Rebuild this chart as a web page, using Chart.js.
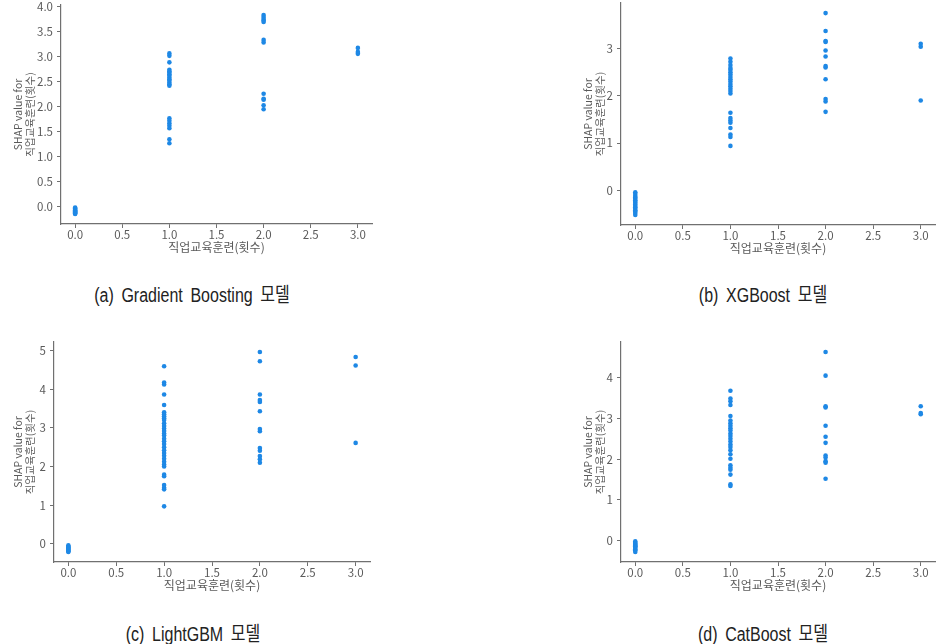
<!DOCTYPE html>
<html>
<head>
<meta charset="utf-8">
<script src="https://cdn.jsdelivr.net/npm/chart.js@4.4.1/dist/chart.umd.min.js"></script>
<style>
  body { margin: 0; background: #fff; width: 940px; height: 644px; position: relative; overflow: hidden; }
  .panel { position: absolute; }
  .cap { position: absolute; font-family: "Liberation Sans", "Noto Sans CJK KR", sans-serif; font-size: 20px; color: #222;
         white-space: nowrap; transform: translate(-50%, -50%) scaleX(0.8); word-spacing: 4px; }
</style>
</head>
<body>
<div class="panel" id="pa"><canvas id="ca"></canvas></div>
<div class="panel" id="pb"><canvas id="cb"></canvas></div>
<div class="panel" id="pc"><canvas id="cc"></canvas></div>
<div class="panel" id="pd"><canvas id="cd"></canvas></div>
<div class="cap" style="left:192px;top:293px">(a) Gradient Boosting 모델</div>
<div class="cap" style="left:763px;top:293px">(b) XGBoost 모델</div>
<div class="cap" style="left:193px;top:632px">(c) LightGBM 모델</div>
<div class="cap" style="left:763px;top:632px">(d) CatBoost 모델</div>
<script>
// 직업교육훈련 횟수 (x 값)
const trainingCounts = [0, 1, 2, 3]
const xTicks = [0, 0.5, 1, 1.5, 2, 2.5, 3]

// SHAP 값 - Gradient Boosting
const gb0 = [-0.02, -0.04, -0.05, -0.07, -0.08, -0.09, -0.10, -0.11, -0.12, -0.13, -0.14, -0.15]
const gb1 = [3.07, 3.02, 2.89, 2.74, 2.71, 2.68, 2.65, 2.62, 2.58, 2.55, 2.52, 2.48, 2.45, 2.42, 1.77, 1.72, 1.67, 1.62, 1.57, 1.35, 1.27]
const gb2 = [3.84, 3.80, 3.76, 3.73, 3.70, 3.34, 3.29, 2.26, 2.16, 2.14, 2.03, 1.95]
const gb3 = [3.18, 3.10, 3.06]
const gbTicks = [0, 0.5, 1, 1.5, 2, 2.5, 3, 3.5, 4]

// SHAP 값 - XGBoost
const xgb0 = [-0.04, -0.08, -0.12, -0.15, -0.18, -0.21, -0.24, -0.27, -0.30, -0.33, -0.36, -0.39, -0.42, -0.45, -0.48, -0.52]
const xgb1 = [2.79, 2.72, 2.65, 2.59, 2.55, 2.50, 2.45, 2.40, 2.35, 2.30, 2.25, 2.20, 2.15, 2.10, 2.05, 1.64, 1.53, 1.48, 1.43, 1.32, 1.18, 1.13, 0.94]
const xgb2 = [3.75, 3.37, 3.16, 3.14, 2.96, 2.83, 2.63, 2.60, 2.35, 1.93, 1.88, 1.66]
const xgb3 = [3.10, 3.04, 1.90]
const xgbTicks = [0, 1, 2, 3]

// SHAP 값 - LightGBM
const lgbm0 = [-0.04, -0.07, -0.09, -0.11, -0.13, -0.15, -0.17, -0.19, -0.21]
const lgbm1 = [4.59, 4.17, 4.12, 3.86, 3.59, 3.40, 3.35, 3.30, 3.25, 3.20, 3.12, 3.05, 2.98, 2.92, 2.85, 2.80, 2.72, 2.65, 2.58, 2.50, 2.42, 2.35, 2.28, 2.20, 2.12, 2.05, 2.00, 1.79, 1.75, 1.52, 1.45, 1.41, 0.97]
const lgbm2 = [4.96, 4.72, 3.86, 3.72, 3.67, 3.43, 2.97, 2.91, 2.48, 2.41, 2.27, 2.19, 2.10]
const lgbm3 = [4.83, 4.61, 2.61]
const lgbmTicks = [0, 1, 2, 3, 4, 5]

// SHAP 값 - CatBoost
const cat0 = [-0.02, -0.05, -0.08, -0.10, -0.12, -0.14, -0.16, -0.18, -0.21, -0.24, -0.28]
const cat1 = [3.68, 3.49, 3.42, 3.33, 3.06, 2.95, 2.88, 2.82, 2.76, 2.70, 2.63, 2.57, 2.50, 2.43, 2.36, 2.30, 2.22, 2.12, 2.01, 1.85, 1.79, 1.74, 1.62, 1.38, 1.34]
const cat2 = [4.63, 4.05, 3.30, 3.27, 2.82, 2.55, 2.40, 2.09, 2.04, 1.95, 1.91, 1.52]
const cat3 = [3.30, 3.13, 3.10]
const catTicks = [0, 1, 2, 3, 4]

const xTitle = '직업교육훈련(횟수)'
const yTitle = ['SHAP value for', '직업교육훈련(횟수)']

const dotColor = '#1E88E5'
const axisColor = '#707070'
const textColor = '#5a5a5a'
const font = '"Noto Sans CJK KR", "DejaVu Sans", sans-serif'

function makePoints(groups) {
  var pts = []
  groups.forEach(function (vals, i) {
    vals.forEach(function (v) { pts.push({ x: trainingCounts[i], y: v }) })
  })
  return pts
}

// box = chart area in page pixels, yAxisW = room for tick labels + title
function drawPanel(divId, canvasId, groups, yTicks, decimals, box, yAxisW) {
  var xAxisH = 31, padTop = 8, padRight = 3
  var div = document.getElementById(divId)
  var left = box.l - yAxisW, top = box.t - padTop
  div.style.left = left + 'px'
  div.style.top = top + 'px'
  div.style.width = (box.r - left + padRight) + 'px'
  div.style.height = (box.b + xAxisH - top) + 'px'

  var pts = makePoints(groups)
  var all = pts.map(p => p.y)
  var lo = Math.min.apply(null, all), hi = Math.max.apply(null, all)
  var m = (hi - lo) * 0.05

  new Chart(document.getElementById(canvasId), {
    type: 'scatter',
    data: {
      datasets: [{
        data: pts,
        backgroundColor: dotColor,
        borderWidth: 0,
        pointRadius: 2.3
      }]
    },
    options: {
      responsive: true,
      maintainAspectRatio: false,
      animation: false,
      layout: { padding: { top: padTop, right: padRight, left: 0, bottom: 0 } },
      plugins: { legend: { display: false }, tooltip: { enabled: false } },
      scales: {
        x: {
          type: 'linear',
          min: -0.15,
          max: 3.15,
          afterBuildTicks: function (s) { s.ticks = xTicks.map(v => ({ value: v })) },
          afterFit: function (s) { s.height = xAxisH; s.paddingLeft = 0; s.paddingRight = 0 },
          ticks: { color: textColor, font: { family: font, size: 11.5 }, padding: 0, maxRotation: 0,
                   callback: v => v.toFixed(1) },
          grid: { drawOnChartArea: false, drawTicks: true, tickLength: 4, color: axisColor },
          border: { display: true, color: axisColor, width: 1.2 },
          title: { display: true, text: xTitle, color: textColor, font: { family: font, size: 12 }, padding: 0 }
        },
        y: {
          type: 'linear',
          min: lo - m,
          max: hi + m,
          afterBuildTicks: function (s) { s.ticks = yTicks.map(v => ({ value: v })) },
          afterFit: function (s) { s.width = yAxisW; s.paddingTop = 0; s.paddingBottom = 0 },
          ticks: { color: textColor, font: { family: font, size: 11.5 }, padding: 4,
                   callback: v => v.toFixed(decimals) },
          grid: { drawOnChartArea: false, drawTicks: true, tickLength: 4, color: axisColor },
          border: { display: true, color: axisColor, width: 1.2 },
          title: { display: true, text: yTitle, color: textColor, font: { family: font, size: 10.5, lineHeight: 1.15 }, padding: 0 }
        }
      }
    }
  })
}

drawPanel('pa', 'ca', [gb0, gb1, gb2, gb3], gbTicks, 1, { l: 61, r: 373, t: 5, b: 224 }, 49)
drawPanel('pb', 'cb', [xgb0, xgb1, xgb2, xgb3], xgbTicks, 0, { l: 621, r: 936, t: 3, b: 225 }, 39)
drawPanel('pc', 'cc', [lgbm0, lgbm1, lgbm2, lgbm3], lgbmTicks, 0, { l: 54, r: 371, t: 342, b: 562 }, 42)
drawPanel('pd', 'cd', [cat0, cat1, cat2, cat3], catTicks, 0, { l: 621, r: 936, t: 342, b: 562 }, 39)
</script>
</body>
</html>
